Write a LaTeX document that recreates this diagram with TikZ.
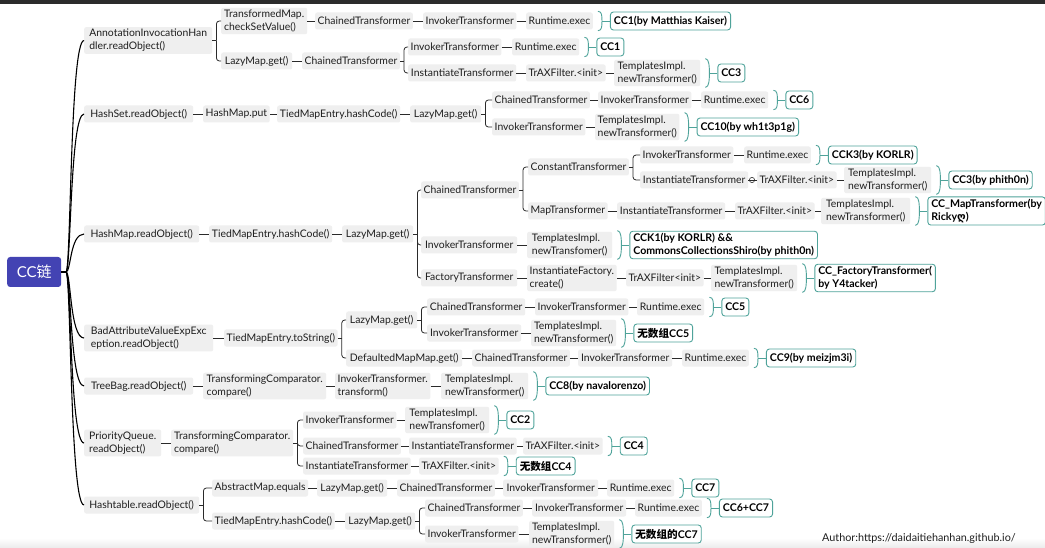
\documentclass[tikz,border=0pt]{standalone}
\usepackage{fontspec}
\setmainfont{Lato}
\newfontfamily\cjk{Noto Sans CJK SC}
\newfontfamily\dejavu{DejaVu Sans}
\usetikzlibrary{calc}
\definecolor{boxgray}{HTML}{EFEFEF}
\definecolor{txt}{HTML}{1E1E1E}
\definecolor{teal2}{HTML}{4FA39A}
\definecolor{rootc}{HTML}{4343B3}
\definecolor{linec}{HTML}{2A2A2A}
\definecolor{topbar}{HTML}{2B2B2B}
\tikzset{
 nd/.style={fill=boxgray, rounded corners=2pt, anchor=west, inner xsep=2.5pt, inner ysep=2.2pt, minimum height=17pt, align=left, text=txt, font=\fontsize{10.4}{12.8}\selectfont},
 res/.style={draw=teal2, line width=0.9pt, fill=white, rounded corners=3pt, anchor=west, inner xsep=3.5pt, inner ysep=2.2pt, minimum height=18pt, align=left, text=black, font=\bfseries\fontsize{10.6}{13}\selectfont},
 ln/.style={draw=linec, line width=0.8pt},
 trunk/.style={draw=black, line width=1.1pt},
 brc/.style={draw=teal2, line width=0.9pt},
}
\newcommand\mkN[5]{\node[nd,minimum width=#4pt] (#1) at (#2,#3) {#5};}
\newcommand\mkC[2]{\draw[ln] (#1.east) -- (#2.west);}
\newcommand\mkS[1]{\draw[ln] (#1.east) -- ++(4,0);}
\newcommand\mkF[2]{\draw[ln,rounded corners=3pt] ($(#1.east)+(4,0)$) |- (#2.west);}
% result box placed right of its predecessor, with the teal brace between
\newcommand\mkB[3]{\node[res] (#2) at ($(#1.east)+(17,0)$) {#3};
 \draw[brc] ($(#1.north east)+(5,-1)$) .. controls +(4,0) and +(0,-5) .. ($(#1.east)+(9,0)$) .. controls +(0,5) and +(4,0) .. ($(#1.south east)+(5,1)$);
 \draw[brc] ($(#1.east)+(9,0)$) -- (#2.west);}
\begin{document}
\begin{tikzpicture}[x=1pt,y=-1pt]
\useasboundingbox (0,0) rectangle (1045,548);
\fill[white] (0,0) rectangle (1045,548);
\fill[topbar] (0,0) rectangle (1045,4.5);
\shade[top color=white, bottom color=black!8] (0,538) rectangle (1045,548);

% root
\node[fill=rootc, rounded corners=3pt, minimum width=54pt, minimum height=30pt, text=white, font=\fontsize{15}{17}\selectfont, anchor=west] (r) at (7,272) {CC{\cjk 链}};

% Branch 1
\mkN{a1}{84}{40.5}{128}{AnnotationInvocationHan\\dler.readObject()}
\mkN{a2}{221}{21}{86}{TransformedMap.\\checkSetValue()}
\mkN{a3}{315}{21}{97}{ChainedTransformer}
\mkN{a4}{423}{21}{93}{InvokerTransformer}
\mkN{a5}{526}{21}{66}{Runtime.exec}
\mkN{a6}{221}{61}{71}{LazyMap.get()}
\mkN{a7}{302}{61}{95}{ChainedTransformer}
\mkN{a8}{408}{47}{93}{InvokerTransformer}
\mkN{a9}{512}{47}{67}{Runtime.exec}
\mkN{a10}{408}{73}{108}{InstantiateTransformer}
\mkN{a11}{526}{73}{78}{TrAXFilter.<init>}
\mkN{a12}{614}{73}{86}{TemplatesImpl.\\newTransformer()}

% Branch 2
\mkN{b1}{84}{114}{109}{HashSet.readObject()}
\mkN{b2}{203}{114}{64}{HashMap.put}
\mkN{b3}{277}{114}{123}{TiedMapEntry.hashCode()}
\mkN{b4}{410}{114}{71}{LazyMap.get()}
\mkN{b5}{492}{100}{96}{ChainedTransformer}
\mkN{b6}{598}{100}{92}{InvokerTransformer}
\mkN{b7}{701}{100}{67}{Runtime.exec}
\mkN{b8}{492}{127}{90}{InvokerTransformer}
\mkN{b9}{595}{127}{83}{TemplatesImpl.\\newTransformer()}

% Branch 3
\mkN{c1}{84}{234}{115}{HashMap.readObject()}
\mkN{c2}{209}{234}{123}{TiedMapEntry.hashCode()}
\mkN{c3}{342}{234}{71}{LazyMap.get()}
\mkN{c4}{421}{190}{95}{ChainedTransformer}
\mkN{c5}{528}{167}{100}{ConstantTransformer}
\mkN{c6}{640}{155}{92}{InvokerTransformer}
\mkN{c7}{744}{155}{65}{Runtime.exec}
\mkN{c8}{640}{180}{108}{InstantiateTransformer}
\mkN{c9}{757}{180}{75}{TrAXFilter.<init>}
\mkN{c10}{844}{180}{87}{TemplatesImpl.\\newTransformer()}
\mkN{c11}{528}{211}{78}{MapTransformer}
\mkN{c12}{617}{211}{108}{InstantiateTransformer}
\mkN{c13}{735}{211}{77}{TrAXFilter.<init>}
\mkN{c14}{821}{211}{89}{TemplatesImpl.\\newTransformer()}
\mkN{c15}{421}{245}{96}{InvokerTransformer}
\mkN{c16}{527}{245}{85}{TemplatesImpl.\\newTransfomer()}
\mkN{c17}{421}{278}{96}{FactoryTransformer}
\mkN{c18}{527}{278}{89}{InstantiateFactory.\\create()}
\mkN{c19}{626}{278}{74}{TrAXFilter<init>}
\mkN{c20}{711}{278}{86}{TemplatesImpl.\\newTransformer()}

% Branch 4
\mkN{d1}{84}{338}{129}{BadAttributeValueExpExc\\eption.readObject()}
\mkN{d2}{224}{338}{113}{TiedMapEntry.toString()}
\mkN{d3}{346}{320}{71}{LazyMap.get()}
\mkN{d4}{427}{307}{98}{ChainedTransformer}
\mkN{d5}{535}{307}{93}{InvokerTransformer}
\mkN{d6}{637}{307}{67}{Runtime.exec}
\mkN{d7}{427}{333}{94}{InvokerTransformer}
\mkN{d8}{531}{333}{85}{TemplatesImpl.\\newTransformer()}
\mkN{d9}{346}{358}{116}{DefaultedMapMap.get()}
\mkN{d10}{472}{358}{96}{ChainedTransformer}
\mkN{d11}{578}{358}{94}{InvokerTransformer}
\mkN{d12}{682}{358}{66}{Runtime.exec}

% Branch 5
\mkN{e1}{84}{386}{109}{TreeBag.readObject()}
\mkN{e2}{203}{386}{123}{TransformingComparator.\\compare()}
\mkN{e3}{335}{386}{95}{InvokerTransformer.\\transform()}
\mkN{e4}{441}{386}{87}{TemplatesImpl.\\newTransformer()}

% Branch 6
\mkN{f1}{84}{443}{77}{PriorityQueue.\\readObject()}
\mkN{f2}{171}{443}{122}{TransformingComparator.\\compare()}
\mkN{f3}{303}{420}{93}{InvokerTransformer}
\mkN{f4}{405}{420}{84}{TemplatesImpl.\\newTransfomer()}
\mkN{f5}{303}{446}{97}{ChainedTransformer}
\mkN{f6}{409}{446}{104}{InstantiateTransformer}
\mkN{f7}{523}{446}{74}{TrAXFilter.<init>}
\mkN{f8}{303}{466}{106}{InstantiateTransformer}
\mkN{f9}{419}{466}{77}{TrAXFilter.<init>}

% Branch 7
\mkN{g1}{84}{505}{115}{Hashtable.readObject()}
\mkN{g2}{212}{488}{95}{AbstractMap.equals}
\mkN{g3}{317}{488}{70}{LazyMap.get()}
\mkN{g4}{397}{488}{96}{ChainedTransformer}
\mkN{g5}{503}{488}{95}{InvokerTransformer}
\mkN{g6}{607}{488}{67}{Runtime.exec}
\mkN{g7}{212}{521}{122}{TiedMapEntry.hashCode()}
\mkN{g8}{345}{521}{70}{LazyMap.get()}
\mkN{g9}{425}{508}{96}{ChainedTransformer}
\mkN{g10}{532}{508}{94}{InvokerTransformer}
\mkN{g11}{635}{508}{66}{Runtime.exec}
\mkN{g12}{425}{534}{93}{InvokerTransformer}
\mkN{g13}{529}{534}{85}{TemplatesImpl.\\newTransformer()}

\node[anchor=west, inner sep=0pt, font=\fontsize{10.8}{13}\selectfont, text=txt] (auth) at (822,539) {Author:https://daidaitiehanhan.github.io/};

% trunk
\draw[trunk] (r.east) -- (66,272);
\draw[trunk] (66,272) .. controls (71,272) and (70,40.5) .. (a1.west);
\draw[trunk] (66,272) .. controls (71,272) and (70,114) .. (b1.west);
\draw[trunk] (66,272) .. controls (71,272) and (70,234) .. (c1.west);
\draw[trunk] (66,272) .. controls (71,272) and (70,338) .. (d1.west);
\draw[trunk] (66,272) .. controls (71,272) and (70,386) .. (e1.west);
\draw[trunk] (66,272) .. controls (71,272) and (70,443) .. (f1.west);
\draw[trunk] (66,272) .. controls (71,272) and (70,505) .. (g1.west);

% Branch 1 links
\mkS{a1}\mkF{a1}{a2}\mkF{a1}{a6}
\mkC{a2}{a3}\mkC{a3}{a4}\mkC{a4}{a5}\mkB{a5}{ra1}{CC1(by Matthias Kaiser)}
\mkC{a6}{a7}\mkS{a7}\mkF{a7}{a8}\mkF{a7}{a10}
\mkC{a8}{a9}\mkB{a9}{ra2}{CC1}
\mkC{a10}{a11}\mkC{a11}{a12}\mkB{a12}{ra3}{CC3}
% Branch 2 links
\mkC{b1}{b2}\mkC{b2}{b3}\mkC{b3}{b4}\mkS{b4}\mkF{b4}{b5}\mkF{b4}{b8}
\mkC{b5}{b6}\mkC{b6}{b7}\mkB{b7}{rb1}{CC6}
\mkC{b8}{b9}\mkB{b9}{rb2}{CC10(by wh1t3p1g)}
% Branch 3 links
\mkC{c1}{c2}\mkC{c2}{c3}\mkS{c3}\mkF{c3}{c4}\mkF{c3}{c15}\mkF{c3}{c17}
\mkS{c4}\mkF{c4}{c5}\mkF{c4}{c11}
\mkS{c5}\mkF{c5}{c6}\mkF{c5}{c8}
\mkC{c6}{c7}\mkB{c7}{rc1}{CCK3(by KORLR)}
\mkC{c8}{c9}
\draw[ln, line width=0.6pt] ($(c9.west)+(-5,0)$) circle (2.6pt);
\mkC{c9}{c10}\mkB{c10}{rc2}{CC3(by phith0n)}
\mkC{c11}{c12}\mkC{c12}{c13}\mkC{c13}{c14}\mkB{c14}{rc3}{CC\_MapTransformer(by\\Ricky{\dejavu ღ})}
\mkC{c15}{c16}\mkB{c16}{rc4}{CCK1(by KORLR) \&\&\\CommonsCollectionsShiro(by phith0n)}
\mkC{c17}{c18}\mkC{c18}{c19}\mkC{c19}{c20}\mkB{c20}{rc5}{CC\_FactoryTransformer(\\by Y4tacker)}
% Branch 4 links
\mkC{d1}{d2}\mkS{d2}\mkF{d2}{d3}\mkF{d2}{d9}
\mkS{d3}\mkF{d3}{d4}\mkF{d3}{d7}
\mkC{d4}{d5}\mkC{d5}{d6}\mkB{d6}{rd1}{CC5}
\mkC{d7}{d8}\mkB{d8}{rd2}{{\cjk 无数组}CC5}
\mkC{d9}{d10}\mkC{d10}{d11}\mkC{d11}{d12}\mkB{d12}{rd3}{CC9(by meizjm3i)}
% Branch 5 links
\mkC{e1}{e2}\mkC{e2}{e3}\mkC{e3}{e4}\mkB{e4}{re1}{CC8(by navalorenzo)}
% Branch 6 links
\mkC{f1}{f2}\mkS{f2}\mkF{f2}{f3}\mkF{f2}{f5}\mkF{f2}{f8}
\mkC{f3}{f4}\mkB{f4}{rf1}{CC2}
\mkC{f5}{f6}\mkC{f6}{f7}\mkB{f7}{rf2}{CC4}
\mkC{f8}{f9}\mkB{f9}{rf3}{{\cjk 无数组}CC4}
% Branch 7 links
\mkS{g1}\mkF{g1}{g2}\mkF{g1}{g7}
\mkC{g2}{g3}\mkC{g3}{g4}\mkC{g4}{g5}\mkC{g5}{g6}\mkB{g6}{rg1}{CC7}
\mkC{g7}{g8}\mkS{g8}\mkF{g8}{g9}\mkF{g8}{g12}
\mkC{g9}{g10}\mkC{g10}{g11}\mkB{g11}{rg2}{CC6+CC7}
\mkC{g12}{g13}\mkB{g13}{rg3}{{\cjk 无数组的}CC7}
\end{tikzpicture}
\end{document}
